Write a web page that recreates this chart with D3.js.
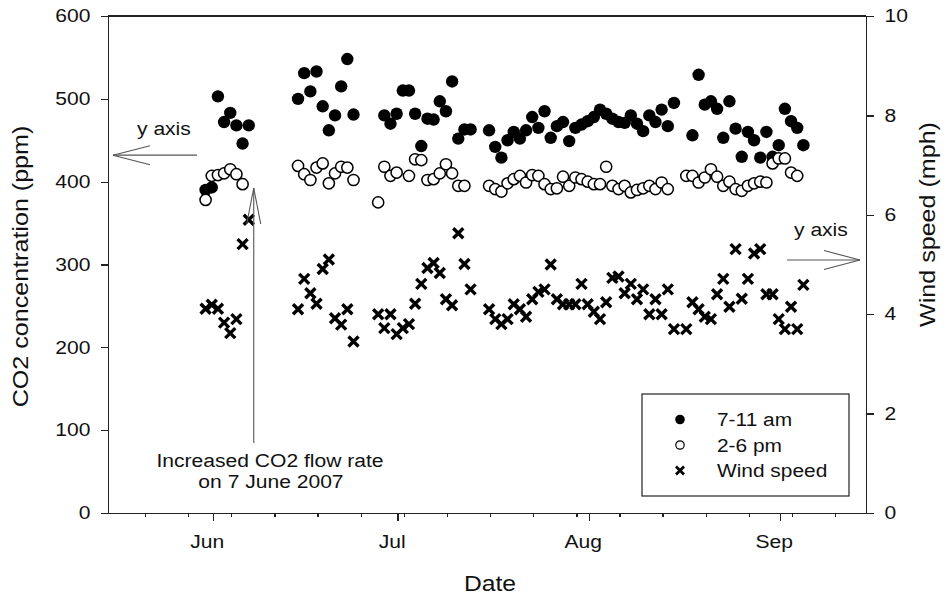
<!DOCTYPE html>
<meta charset="utf-8">
<style>
body { margin: 0; background: #fff; }
svg text { font-family: Arial, "Liberation Sans", sans-serif; fill: #111; }
.axis path, .axis line { fill: none; stroke: #222; stroke-width: 1.3; shape-rendering: crispEdges; }
.note line { stroke: #555; stroke-width: 1.1; }
</style>
<body>
<script src="https://d3js.org/d3.v7.min.js"></script>
<script>

// 7-11 am CO2 (ppm)
var amDates = ["05-31","06-01","06-02","06-03","06-04","06-05","06-06","06-07",
  "06-15","06-16","06-17","06-18","06-19","06-20","06-21","06-22","06-23","06-24",
  "06-29","06-30","07-01","07-02","07-03","07-04","07-05","07-06","07-07","07-08","07-09","07-10","07-11","07-12","07-13",
  "07-16","07-17","07-18","07-19","07-20","07-21","07-22","07-23","07-24","07-25","07-26","07-27","07-28","07-29","07-30","07-31",
  "08-01","08-02","08-03","08-04","08-05","08-06","08-07","08-08","08-09","08-10","08-11","08-12","08-13","08-14","08-15",
  "08-18","08-19","08-20","08-21","08-22","08-23","08-24","08-25","08-26","08-27","08-28","08-29","08-30","08-31",
  "09-01","09-02","09-03","09-04","09-05"];
var amCO2 = [390,393,503,472,483,468,446,468,
  500,531,509,533,491,462,480,515,548,481,
  480,470,482,510,510,482,443,476,475,497,485,521,452,463,463,
  462,442,429,450,460,452,462,478,465,485,453,467,472,449,465,469,
  473,478,487,482,476,472,471,480,470,461,480,472,487,467,495,
  456,529,493,497,488,453,497,464,430,460,450,429,460,430,
  444,488,473,465,444];

// 2-6 pm CO2 (ppm)
var pmDates = ["05-31","06-01","06-02","06-03","06-04","06-05","06-06",
  "06-15","06-16","06-17","06-18","06-19","06-20","06-21","06-22","06-23","06-24",
  "06-28","06-29","06-30","07-01","07-03","07-04","07-05","07-06","07-07","07-08","07-09","07-10","07-11","07-12",
  "07-16","07-17","07-18","07-19","07-20","07-21","07-22","07-23","07-24","07-25","07-26","07-27","07-28","07-29","07-30","07-31",
  "08-01","08-02","08-03","08-04","08-05","08-06","08-07","08-08","08-09","08-10","08-11","08-12","08-13","08-14",
  "08-17","08-18","08-19","08-20","08-21","08-22","08-23","08-24","08-25","08-26","08-27","08-28","08-29","08-30","08-31",
  "09-01","09-02","09-03","09-04"];
var pmCO2 = [378,407,408,410,415,409,397,
  419,409,402,417,422,398,410,418,417,402,
  375,418,407,411,407,427,426,402,403,410,421,410,395,395,
  395,391,388,398,403,407,399,408,407,397,391,392,406,395,405,403,
  400,397,397,418,395,391,395,387,390,392,395,391,399,391,
  407,407,399,405,415,406,395,400,391,389,395,398,400,399,422,
  428,428,411,407];

// wind speed (mph)
var windDates = ["05-31","06-01","06-02","06-03","06-04","06-05","06-06","06-07",
  "06-15","06-16","06-17","06-18","06-19","06-20","06-21","06-22","06-23","06-24",
  "06-28","06-29","06-30","07-01","07-02","07-03","07-04","07-05","07-06","07-07","07-08","07-09","07-10","07-11","07-12","07-13",
  "07-16","07-17","07-18","07-19","07-20","07-21","07-22","07-23","07-24","07-25","07-26","07-27","07-28","07-29","07-30","07-31",
  "08-01","08-02","08-03","08-04","08-05","08-06","08-07","08-08","08-09","08-10","08-11","08-12","08-13","08-14","08-15",
  "08-17","08-18","08-19","08-20","08-21","08-22","08-23","08-24","08-25","08-26","08-27","08-28","08-29","08-30","08-31",
  "09-01","09-02","09-03","09-04","09-05"];
var windSpeed = [4.11,4.19,4.11,3.83,3.62,3.90,5.41,5.90,
  4.10,4.71,4.42,4.21,4.91,5.10,3.92,3.79,4.10,3.45,
  4.00,3.72,4.00,3.60,3.72,3.80,4.21,4.61,4.93,5.03,4.83,4.30,4.18,5.63,5.01,4.50,
  4.10,3.90,3.80,3.90,4.20,4.10,3.95,4.30,4.45,4.50,5.00,4.30,4.20,4.20,4.20,4.61,
  4.20,4.05,3.90,4.24,4.73,4.76,4.42,4.61,4.30,4.50,4.00,4.30,4.00,4.50,3.70,
  3.70,4.24,4.10,3.95,3.90,4.40,4.71,4.15,5.31,4.31,4.71,5.22,5.31,4.40,4.40,
  3.90,3.70,4.15,3.70,4.59];

var leftTicks = [0, 100, 200, 300, 400, 500, 600];
var rightTicks = [0, 2, 4, 6, 8, 10];
var monthTicks = ["06-01", "07-01", "08-01", "09-01"];

var legendItems = ["7-11 am", "2-6 pm", "Wind speed"];

var parseDay = function(s) { return d3.timeParse("%Y-%m-%d")("2007-" + s); };

var margin = {top: 16, right: 86, bottom: 84, left: 108},
    width = 952 - margin.left - margin.right,
    height = 597 - margin.top - margin.bottom;

var x = d3.scaleTime().domain([parseDay("05-15"), parseDay("09-15")]).range([0, width]);
var yL = d3.scaleLinear().domain([0, 600]).range([height, 0]);
var yR = d3.scaleLinear().domain([0, 10]).range([height, 0]);

var svg = d3.select("body").append("svg")
    .attr("width", 952).attr("height", 597)
  .append("g")
    .attr("transform", "translate(" + margin.left + "," + margin.top + ")");

// stretch text a little wider, the source figure is drawn with wide letters
function stretch(sel, k) {
  sel.each(function() {
    var w = this.getComputedTextLength();
    d3.select(this).attr("textLength", w * k).attr("lengthAdjust", "spacingAndGlyphs");
  });
}

// frame top line
svg.append("line").attr("class", "frame")
  .attr("x1", 0).attr("x2", width).attr("y1", 0).attr("y2", 0)
  .attr("stroke", "#222").attr("stroke-width", 1.3).attr("shape-rendering", "crispEdges");

// axes
var gL = svg.append("g").attr("class", "axis")
  .call(d3.axisLeft(yL).tickValues(leftTicks).tickSize(7.5).tickPadding(10).tickSizeOuter(0));
var gR = svg.append("g").attr("class", "axis")
  .attr("transform", "translate(" + width + ",0)")
  .call(d3.axisRight(yR).tickValues(rightTicks).tickSize(7.5).tickPadding(11).tickSizeOuter(0));
var gMinor = svg.append("g").attr("class", "axis")
  .attr("transform", "translate(0," + height + ")")
  .call(d3.axisBottom(x).ticks(d3.timeMonday).tickSize(4).tickFormat("").tickSizeOuter(0));
gMinor.select(".domain").remove();
var gX = svg.append("g").attr("class", "axis")
  .attr("transform", "translate(0," + height + ")")
  .call(d3.axisBottom(x).tickValues(monthTicks.map(parseDay)).tickSize(7.5).tickPadding(15)
    .tickFormat(d3.timeFormat("%b")).tickSizeOuter(0));
gX.selectAll("text").attr("dx", -6);

svg.selectAll(".axis text").attr("font-size", 18).attr("font-family", "Arial, 'Liberation Sans', sans-serif").attr("fill", "#111");
svg.selectAll(".axis").attr("font-family", null);
stretch(svg.selectAll(".axis text"), 1.17);

// axis titles
var yTitle = svg.append("text")
  .attr("text-anchor", "middle")
  .attr("transform", "translate(" + (28 - margin.left) + "," + (height / 2 + 2) + ") rotate(-90)")
  .attr("font-size", 22)
  .text("CO2 concentration (ppm)");
var y2Title = svg.append("text")
  .attr("text-anchor", "middle")
  .attr("transform", "translate(" + (width + 69) + "," + (height / 2 - 40) + ") rotate(-90)")
  .attr("font-size", 22)
  .text("Wind speed (mph)");
stretch(yTitle, 1.14);
stretch(y2Title, 1.14);
var dateTitle = svg.append("text")
  .attr("text-anchor", "middle")
  .attr("x", width / 2 + 3)
  .attr("y", height + 78)
  .attr("font-size", 22)
  .text("Date");
stretch(dateTitle, 1.12);

// data
var am = amDates.map(function(d, i) { return {date: parseDay(d), v: amCO2[i]}; });
var pm = pmDates.map(function(d, i) { return {date: parseDay(d), v: pmCO2[i]}; });
var wind = windDates.map(function(d, i) { return {date: parseDay(d), v: windSpeed[i]}; });

svg.selectAll(".am")
    .data(am)
  .enter().append("circle")
    .attr("class", "am")
    .attr("r", 6.2)
    .attr("fill", "#000")
    .attr("cx", function(d) { return x(d.date) - 1; })
    .attr("cy", function(d) { return yL(d.v); });

svg.selectAll(".pm")
    .data(pm)
  .enter().append("circle")
    .attr("class", "pm")
    .attr("r", 5.6)
    .attr("fill", "#fff")
    .attr("stroke", "#000")
    .attr("stroke-width", 1.5)
    .attr("cx", function(d) { return x(d.date) - 1; })
    .attr("cy", function(d) { return yL(d.v); });

var cross = "M-5,-5L5,5M-5,5L5,-5";
svg.selectAll(".wind")
    .data(wind)
  .enter().append("path")
    .attr("class", "wind")
    .attr("d", cross)
    .attr("stroke", "#000")
    .attr("stroke-width", 3.4)
    .attr("fill", "none")
    .attr("transform", function(d) { return "translate(" + (x(d.date) - 1) + "," + yR(d.v) + ")"; });

// annotations
var notes = svg.append("g").attr("class", "note");
// left "y axis" arrow
var ly = yL(432);
notes.append("line").attr("x1", 197 - margin.left).attr("x2", 113 - margin.left).attr("y1", ly).attr("y2", ly);
notes.append("line").attr("x1", 113 - margin.left).attr("x2", 150 - margin.left).attr("y1", ly).attr("y2", ly - 9.5);
notes.append("line").attr("x1", 113 - margin.left).attr("x2", 150 - margin.left).attr("y1", ly).attr("y2", ly + 9.5);
notes.append("text").attr("x", 137 - margin.left).attr("y", ly - 20).attr("font-size", 18).text("y axis");
// right "y axis" arrow
var ry = yR(5.09);
notes.append("line").attr("x1", 787 - margin.left).attr("x2", 860 - margin.left).attr("y1", ry).attr("y2", ry);
notes.append("line").attr("x1", 860 - margin.left).attr("x2", 824 - margin.left).attr("y1", ry).attr("y2", ry - 9.5);
notes.append("line").attr("x1", 860 - margin.left).attr("x2", 824 - margin.left).attr("y1", ry).attr("y2", ry + 9.5);
notes.append("text").attr("x", 794 - margin.left).attr("y", ry - 24).attr("font-size", 18).text("y axis");
// vertical arrow for flow-rate change
var ax = x(parseDay("06-07")) + 4;
notes.append("line").attr("x1", ax).attr("x2", ax).attr("y1", 443 - margin.top).attr("y2", 188 - margin.top);
notes.append("line").attr("x1", ax).attr("x2", ax - 7).attr("y1", 188 - margin.top).attr("y2", 224 - margin.top);
notes.append("line").attr("x1", ax).attr("x2", ax + 7).attr("y1", 188 - margin.top).attr("y2", 224 - margin.top);
notes.append("text").attr("text-anchor", "middle").attr("x", 270 - margin.left).attr("y", 467 - margin.top)
  .attr("font-size", 18).text("Increased CO2 flow rate");
notes.append("text").attr("text-anchor", "middle").attr("x", 271 - margin.left).attr("y", 488 - margin.top)
  .attr("font-size", 18).text("on 7 June 2007");
stretch(notes.selectAll("text"), 1.17);

// legend
var lg = svg.append("g").attr("transform", "translate(" + (642 - margin.left) + "," + (394 - margin.top) + ")");
lg.append("rect").attr("width", 207).attr("height", 102)
  .attr("fill", "#fff").attr("stroke", "#222").attr("stroke-width", 1.2);
lg.selectAll(".lt")
    .data(legendItems)
  .enter().append("text")
    .attr("class", "lt")
    .attr("x", 75)
    .attr("y", function(d, i) { return 32 + i * 25.5; })
    .attr("font-size", 18)
    .text(function(d) { return d; });
stretch(lg.selectAll(".lt"), 1.16);
lg.append("circle").attr("cx", 38).attr("cy", 25.5).attr("r", 4.8).attr("fill", "#000");
lg.append("circle").attr("cx", 38).attr("cy", 51).attr("r", 4.2).attr("fill", "#fff").attr("stroke", "#000").attr("stroke-width", 1.2);
lg.append("path").attr("d", "M-4,-4L4,4M-4,4L4,-4").attr("stroke", "#000").attr("stroke-width", 2.8)
  .attr("transform", "translate(38,76.5)");

</script>
</body>
